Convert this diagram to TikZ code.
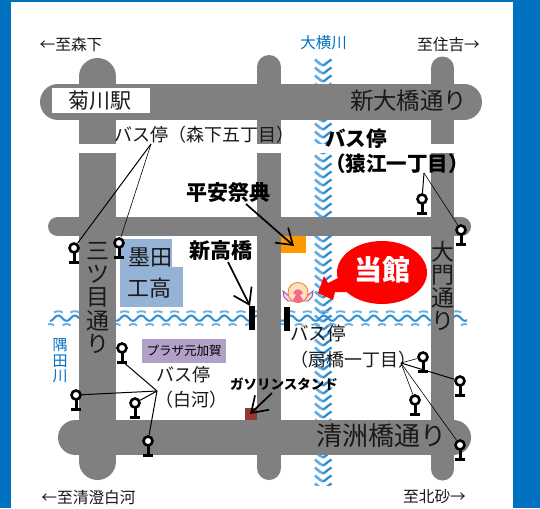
\documentclass[tikz,border=0pt]{standalone}
\usepackage{fontspec}
\setmainfont{Noto Sans CJK JP}
\usetikzlibrary{arrows.meta,shapes.geometric}
\definecolor{road}{HTML}{808080}
\definecolor{frame}{HTML}{0070C0}
\definecolor{water}{HTML}{2F8FD6}
\definecolor{school}{HTML}{95B3D7}
\definecolor{plaza}{HTML}{B1A0C7}
\definecolor{festival}{HTML}{FF9900}
\tikzset{
  roadline/.style={line width=#1,road,line cap=round},
  lbl/.style={inner sep=0pt,text=black!90,font=\fontsize{#1}{#1}\selectfont},
  blbl/.style={inner sep=0pt,text=black,font=\fontsize{#1}{#1}\selectfont\bfseries},
  stopnode/.style={circle,draw=black,fill=white,line width=2.6pt,minimum size=9pt,inner sep=0pt},
  lead/.style={draw=black,line width=1pt},
  barb/.style={-{Straight Barb[length=15pt,width=20pt,line width=1.7pt]},line width=1.7pt,black},
  sq/.style={inner sep=0pt,minimum width=#1}
}
\newcommand{\busstop}[3]{%
  \draw[black,line width=3pt] (#2,#3) -- ++(0,13);
  \draw[black,line width=3pt] (#2-5,#3+14) -- ++(10,0);
  \node[stopnode] (#1) at (#2,#3) {};
}
\begin{document}
\begin{tikzpicture}[x=1pt,y=-1pt]
\useasboundingbox (0,0) rectangle (540,508);
\fill[white] (0,0) rectangle (540,508);
\fill[frame] (0,0) rectangle (11,508);
\fill[frame] (0,0) rectangle (540,2);
\fill[frame] (513,0) rectangle (540,508);
% rivers
\begin{scope}
\clip (314,58) rectangle (332,485);
\foreach \y in {58,66,...,485}{
  \draw[water!75,line width=2.6pt] (315,\y+1.5) .. controls (319,\y+5) and (321,\y+7) .. (323,\y+7.5);
  \draw[water,line width=2.3pt] (323,\y+7.5) .. controls (325,\y+7) and (327,\y+4) .. (331.5,\y+1.5);
}
\end{scope}
\begin{scope}
\clip (48,310) rectangle (467,326);
\foreach \x in {50,66.6,...,470}{
  \draw[water,line width=2pt] (\x,321) .. controls (\x+3,321) and (\x+5,315.5) .. (\x+8.3,315.5) .. controls (\x+11.6,315.5) and (\x+13.6,321) .. (\x+16.6,321);
  \draw[water!70,line width=1.9pt] (\x+3.8,312.5) .. controls (\x+6,310.8) and (\x+10.6,310.8) .. (\x+12.8,312.5);
  \draw[water!70,line width=1.9pt] (\x-4,325.5) .. controls (\x-2,323.5) and (\x+2,323.5) .. (\x+4,325.5);
}
\end{scope}
% roads
\draw[roadline=37pt] (97.5,76.5) -- (97.5,461.5);
\draw[roadline=24pt] (269,67) -- (269,468);
\draw[roadline=23pt] (442.5,68) -- (442.5,469);
\fill[white] (70,144) rectangle (470,153);
\draw[roadline=36pt] (58,102) -- (464,102);
\draw[roadline=19pt] (57.5,226.5) -- (461.5,226.5);
\draw[roadline=35pt] (75.5,437.5) -- (453.5,437.5);
% boxes
\node[fill=white,minimum width=98pt,minimum height=25pt,inner sep=0pt] (stationbox) at (101,100.5) {};
\node[lbl=21] (station) at (100,101) {菊川駅};
\fill[school] (120,239) rectangle (172,268);
\fill[school] (120,267) rectangle (183,307);
\node[fill=festival,sq=25pt,minimum height=17pt] (heianbox) at (293.5,244.5) {};
\node[fill={rgb,255:red,149;green,55;blue,53},sq=12pt,minimum height=12pt] (gasbox) at (251,414) {};
\node[fill=plaza,sq=84pt,minimum height=24pt] (plazabox) at (184,351) {};
\node[fill=black,sq=6pt,minimum height=24pt] (barA) at (252,318) {};
\node[fill=black,sq=6pt,minimum height=24pt] (barB) at (287,319) {};
% texts
\node[lbl=15.7] (tl) at (71,45) {←至森下};
\node[lbl=15.7] (tr) at (448.5,45) {至住吉→};
\node[lbl=15.7] (bl) at (88.5,497) {←至清澄白河};
\node[lbl=15.7] (br) at (434.5,497) {至北砂→};
\node[lbl=15.5,text=frame] (oy) at (323.5,43) {大横川};
\node[inner sep=0pt,align=center,text=frame,font=\fontsize{15}{15.5}\selectfont] (sumida) at (60,361) {隅\\田\\川};
\node[lbl=23.4] (shin) at (408.5,101) {新大橋通り};
\node[lbl=26] (kiyosu) at (381,436) {清洲橋通り};
\node[inner sep=0pt,align=center,text=black!90,font=\fontsize{23}{23.2}\selectfont] (mitsu) at (97.5,298) {三\\ツ\\目\\通\\り};
\node[inner sep=0pt,align=center,text=black!90,font=\fontsize{23}{23.2}\selectfont] (daimon) at (443,286) {大\\門\\通\\り};
\node[lbl=18,anchor=west] (morishita) at (114,135) {バス停（森下五丁目）};
\node[blbl=20.5,anchor=west] (saruA) at (325,139) {バス停};
\node[blbl=20.5,anchor=west] (saruB) at (325,164) {（猿江一丁目）};
\node[blbl=21] (heian) at (228,192) {平安祭典};
\node[blbl=21] (shinko) at (221,251) {新高橋};
\node[lbl=22] (sumi) at (150,257) {墨田};
\node[lbl=22] (koko) at (149,288) {工高};
\node[font=\fontsize{12.5}{12.5}\selectfont,inner sep=0pt,text=black] (plaza) at (184,351) {プラザ元加賀};
\node[lbl=18] (shiraA) at (183,375) {バス停};
\node[lbl=18,anchor=west] (shiraB) at (155,400) {（白河）};
\node[lbl=18.5] (ogiA) at (318,334) {バス停};
\node[lbl=18,anchor=west] (ogiB) at (290,360) {（扇橋一丁目）};
\node[blbl=13.5] (gas) at (284,384) {ガソリンスタンド};
% bubble
\fill[red] (382,272.5) ellipse[x radius=45,y radius=31.5];
\fill[red] (318,293) -- (324,276) -- (328,283) -- (350,272) -- (352,292) -- (335,292) -- (333,300) -- cycle;
\node[inner sep=0pt,text=white,font=\fontsize{28}{28}\selectfont\bfseries] (tokan) at (382,270) {当館};
% mascot
\draw[violet!70,line width=.9pt,fill=violet!15] (289,296) -- (283,291) -- (284,297) -- (288,301) -- (294,301) -- cycle;
\draw[violet!70,line width=.9pt,fill=violet!15] (307,296) -- (313,291) -- (312,297) -- (308,301) -- (302,301) -- cycle;
\node[circle,draw=orange!70!brown,fill=orange!25,minimum size=20pt,inner sep=0pt,line width=.8pt] (mascot) at (298,292.5) {};
\fill[magenta!50!red!60] (293,293) .. controls (296,288) and (300,288) .. (303,293) -- (300,295) -- (303,300) .. controls (300,304) and (296,304) .. (293,300) -- (296,295) -- cycle;
% bus stops
\busstop{sA}{422}{199}
\busstop{sB}{461}{230}
\busstop{mA}{74}{248}
\busstop{mB}{119}{243}
\busstop{wA}{122}{348}
\busstop{wB}{76}{395}
\busstop{wC}{135}{403}
\busstop{wD}{148}{441}
\busstop{oA}{423}{357}
\busstop{oB}{460}{381}
\busstop{oC}{415}{400}
\busstop{oD}{460}{445}
% connectors
\coordinate (jm) at (151,144);
\coordinate (js) at (424,173);
\coordinate (jw) at (157,391);
\coordinate (jo) at (401,363);
\coordinate (wAbase) at (122,361);
\draw[lead] (jm) -- (mA);
\draw[lead,line width=.6pt] (jm) -- (mB);
\draw[lead] (js) -- (sA);
\draw[lead,line width=.6pt] (js) -- (sB);
\draw[lead] (jw) -- (wAbase);
\draw[lead] (jw) -- (wB);
\draw[lead] (jw) -- (wC);
\draw[lead] (jw) -- (wD);
\draw[lead,line width=.6pt] (jo) -- (oA);
\draw[lead] (jo) -- (oB);
\draw[lead,line width=.6pt] (jo) -- (oC);
\draw[lead,line width=.6pt] (jo) -- (oD);
\coordinate (h0) at (246,204);
\coordinate (h1) at (294,246);
\coordinate (n0) at (228,262);
\coordinate (n1) at (250,306);
\coordinate (g0) at (272,393);
\coordinate (g1) at (250,414);
\draw[barb] (h0) -- (h1);
\draw[barb] (n0) -- (n1);
\draw[barb] (g0) -- (g1);
\end{tikzpicture}
\end{document}
